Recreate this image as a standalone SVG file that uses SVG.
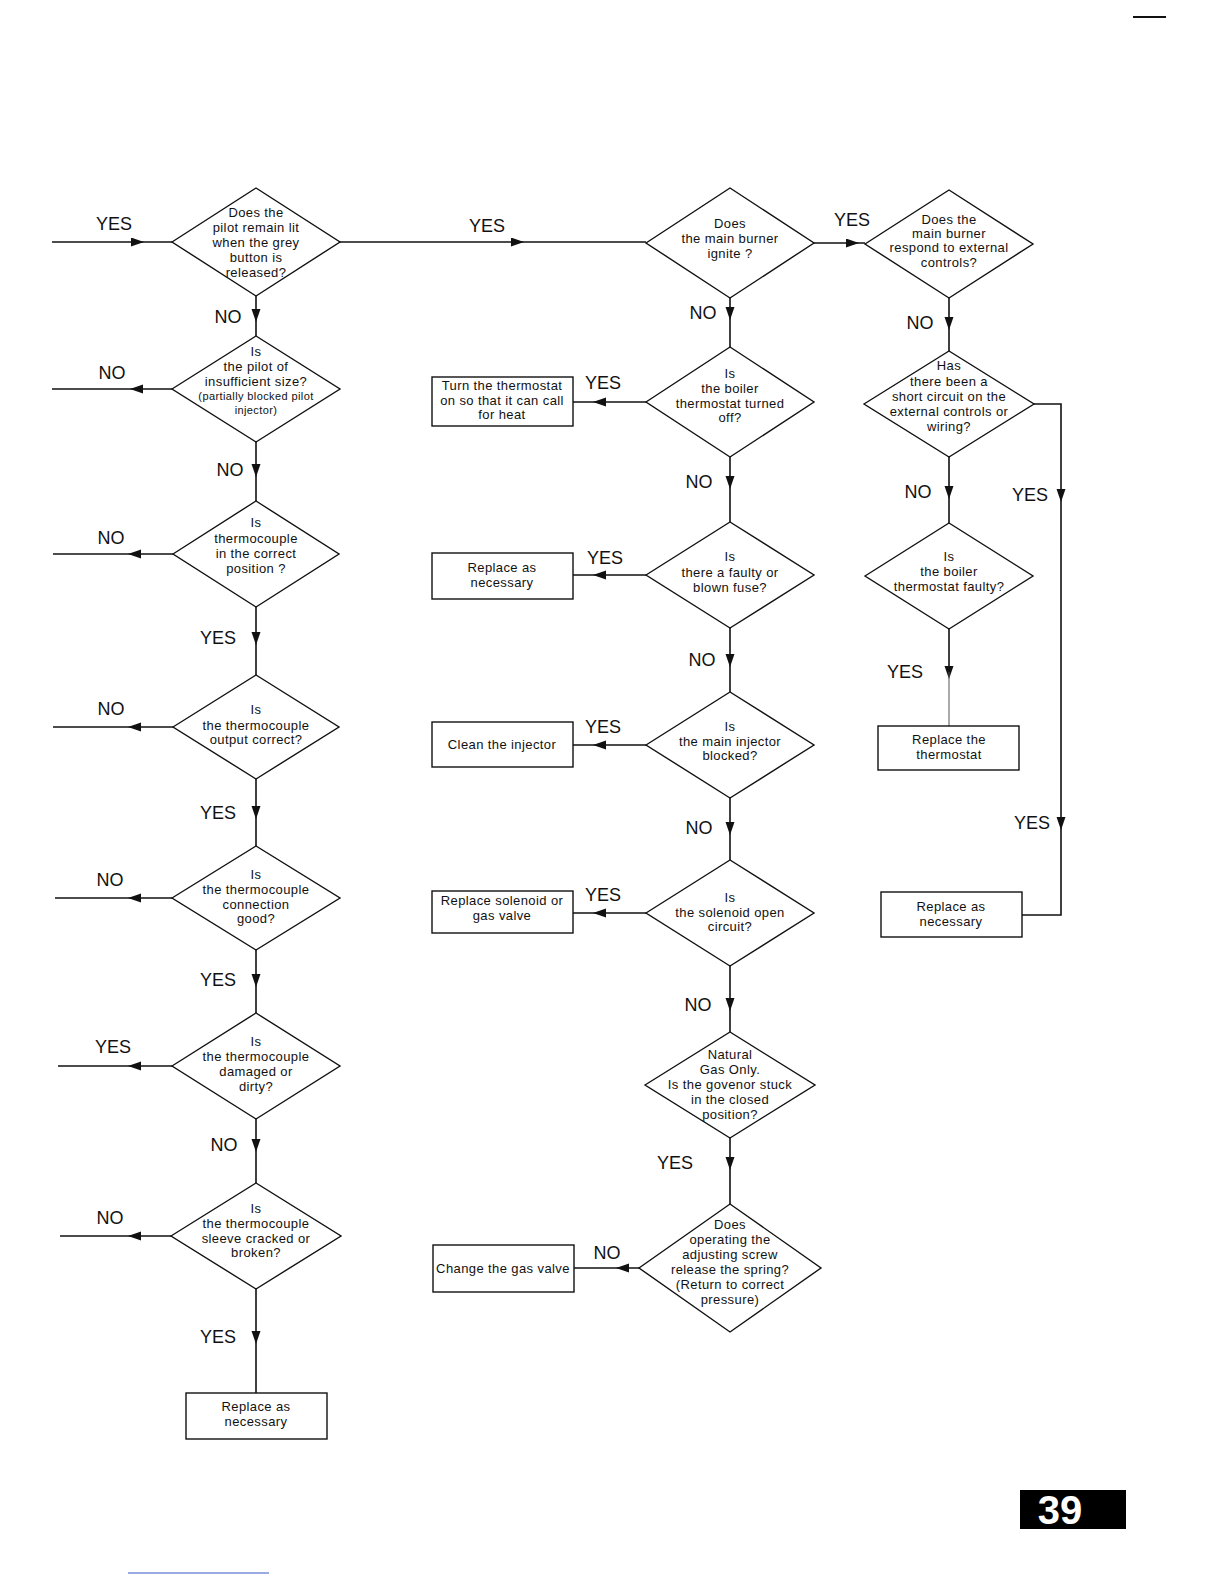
<svg xmlns="http://www.w3.org/2000/svg" width="1224" height="1584" viewBox="0 0 1224 1584">
<style>
.d{fill:#fff;stroke:#111;stroke-width:1.4}
.b{fill:#fff;stroke:#111;stroke-width:1.4}
.t{font-family:"Liberation Sans",Arial,sans-serif;font-size:13px;letter-spacing:0.4px;fill:#111;text-anchor:middle}
.s{font-size:11px}
.l{font-family:"Liberation Sans",Arial,sans-serif;font-size:18px;fill:#111;text-anchor:middle}
.c{fill:none;stroke:#111;stroke-width:1.6}
.m{marker-mid:url(#ah)}
.e{marker-end:url(#ah)}
</style>
<defs>
<marker id="ah" markerUnits="userSpaceOnUse" markerWidth="14" markerHeight="10" refX="6" refY="4.5" orient="auto">
<path d="M0,0 L13,4.5 L0,9 z" fill="#111"/>
</marker>
</defs>
<rect width="1224" height="1584" fill="#fff"/>

<g id="connectors">
<path class="c m" d="M52,242 L137,242 L172,242"/>
<path class="c m" d="M340,242 L517,242 L646,242"/>
<path class="c m" d="M814,243 L852,243 L865,243"/>
<path class="c m" d="M256,296 L256,315 L256,336"/>
<path class="c m" d="M172,389 L137,389 L52,389"/>
<path class="c m" d="M256,442 L256,470 L256,501"/>
<path class="c m" d="M173,554 L135,554 L53,554"/>
<path class="c m" d="M256,607 L256,638 L256,675"/>
<path class="c m" d="M173,727 L135,727 L53,727"/>
<path class="c m" d="M256,779 L256,812 L256,846"/>
<path class="c m" d="M172,898 L135,898 L55,898"/>
<path class="c m" d="M256,950 L256,980 L256,1013"/>
<path class="c m" d="M172,1066 L135,1066 L58,1066"/>
<path class="c m" d="M256,1119 L256,1145 L256,1183"/>
<path class="c m" d="M171,1236 L135,1236 L60,1236"/>
<path class="c m" d="M256,1289 L256,1337 L256,1393"/>

<path class="c m" d="M730,298 L730,313 L730,347"/>
<path class="c m" d="M646,402 L600,402 L573,402"/>
<path class="c m" d="M730,457 L730,482 L730,522"/>
<path class="c m" d="M646,575 L600,575 L573,575"/>
<path class="c m" d="M730,628 L730,660 L730,692"/>
<path class="c m" d="M646,745 L600,745 L573,745"/>
<path class="c m" d="M730,798 L730,828 L730,860"/>
<path class="c m" d="M646,913 L600,913 L573,913"/>
<path class="c m" d="M730,966 L730,1004 L730,1032"/>
<path class="c m" d="M730,1138 L730,1163 L730,1204"/>
<path class="c m" d="M639,1268 L623,1268 L574,1268"/>

<path class="c m" d="M949,298 L949,323 L949,351"/>
<path class="c m" d="M949,457 L949,492 L949,523"/>
<path class="c e" d="M949,629 L949,672"/>
<path fill="none" stroke="#555" stroke-width="1" d="M949,672 L949,726"/>
<path class="c e" d="M1034,404 L1061,404 L1061,495"/>
<path class="c e" d="M1061,495 L1061,823"/>
<path class="c" d="M1061,823 L1061,915 L1022,915"/>
</g>

<g id="d1"><polygon class="d" points="172,242 256,188 340,242 256,296"/>
<text class="t" x="256" y="217">Does the</text><text class="t" x="256" y="232">pilot remain lit</text><text class="t" x="256" y="247">when the grey</text><text class="t" x="256" y="262">button is</text><text class="t" x="256" y="277">released?</text></g>
<g id="d2"><polygon class="d" points="172,389 256,336 340,389 256,442"/>
<text class="t" x="256" y="356">Is</text><text class="t" x="256" y="371">the pilot of</text><text class="t" x="256" y="386">insufficient size?</text><text class="t s" x="256" y="400">(partially blocked pilot</text><text class="t s" x="256" y="414">injector)</text></g>
<g id="d3"><polygon class="d" points="173,554 256,501 339,554 256,607"/>
<text class="t" x="256" y="527">Is</text><text class="t" x="256" y="543">thermocouple</text><text class="t" x="256" y="558">in the correct</text><text class="t" x="256" y="573">position ?</text></g>
<g id="d4"><polygon class="d" points="173,727 256,675 339,727 256,779"/>
<text class="t" x="256" y="714">Is</text><text class="t" x="256" y="730">the thermocouple</text><text class="t" x="256" y="744">output correct?</text></g>
<g id="d5"><polygon class="d" points="172,898 256,846 340,898 256,950"/>
<text class="t" x="256" y="879">Is</text><text class="t" x="256" y="894">the thermocouple</text><text class="t" x="256" y="909">connection</text><text class="t" x="256" y="923">good?</text></g>
<g id="d6"><polygon class="d" points="172,1066 256,1013 340,1066 256,1119"/>
<text class="t" x="256" y="1046">Is</text><text class="t" x="256" y="1061">the thermocouple</text><text class="t" x="256" y="1076">damaged or</text><text class="t" x="256" y="1091">dirty?</text></g>
<g id="d7"><polygon class="d" points="171,1236 256,1183 341,1236 256,1289"/>
<text class="t" x="256" y="1213">Is</text><text class="t" x="256" y="1228">the thermocouple</text><text class="t" x="256" y="1243">sleeve cracked or</text><text class="t" x="256" y="1257">broken?</text></g>
<g id="b1"><rect class="b" x="186" y="1393" width="141" height="46"/>
<text class="t" x="256" y="1411">Replace as</text><text class="t" x="256" y="1426">necessary</text></g>

<g id="d8"><polygon class="d" points="646,243 730,188 814,243 730,298"/>
<text class="t" x="730" y="228">Does</text><text class="t" x="730" y="243">the main burner</text><text class="t" x="730" y="258">ignite ?</text></g>
<g id="d9"><polygon class="d" points="646,402 730,347 814,402 730,457"/>
<text class="t" x="730" y="378">Is</text><text class="t" x="730" y="393">the boiler</text><text class="t" x="730" y="408">thermostat turned</text><text class="t" x="730" y="422">off?</text></g>
<g id="b2"><rect class="b" x="432" y="377" width="141" height="49"/>
<text class="t" x="502" y="390">Turn the thermostat</text><text class="t" x="502" y="405">on so that it can call</text><text class="t" x="502" y="419">for heat</text></g>
<g id="d10"><polygon class="d" points="646,575 730,522 814,575 730,628"/>
<text class="t" x="730" y="561">Is</text><text class="t" x="730" y="577">there a faulty or</text><text class="t" x="730" y="592">blown fuse?</text></g>
<g id="b3"><rect class="b" x="432" y="553" width="141" height="46"/>
<text class="t" x="502" y="572">Replace as</text><text class="t" x="502" y="587">necessary</text></g>
<g id="d11"><polygon class="d" points="646,745 730,692 814,745 730,798"/>
<text class="t" x="730" y="731">Is</text><text class="t" x="730" y="746">the main injector</text><text class="t" x="730" y="760">blocked?</text></g>
<g id="b4"><rect class="b" x="432" y="722" width="141" height="45"/>
<text class="t" x="502" y="749">Clean the injector</text></g>
<g id="d12"><polygon class="d" points="646,913 730,860 814,913 730,966"/>
<text class="t" x="730" y="902">Is</text><text class="t" x="730" y="917">the solenoid open</text><text class="t" x="730" y="931">circuit?</text></g>
<g id="b5"><rect class="b" x="432" y="891" width="141" height="42"/>
<text class="t" x="502" y="905">Replace solenoid or</text><text class="t" x="502" y="920">gas valve</text></g>
<g id="d13"><polygon class="d" points="645,1085 730,1032 815,1085 730,1138"/>
<text class="t" x="730" y="1059">Natural</text><text class="t" x="730" y="1074">Gas Only.</text><text class="t" x="730" y="1089">Is the govenor stuck</text><text class="t" x="730" y="1104">in the closed</text><text class="t" x="730" y="1119">position?</text></g>
<g id="d14"><polygon class="d" points="639,1268 730,1204 821,1268 730,1332"/>
<text class="t" x="730" y="1229">Does</text><text class="t" x="730" y="1244">operating the</text><text class="t" x="730" y="1259">adjusting screw</text><text class="t" x="730" y="1274">release the spring?</text><text class="t" x="730" y="1289">(Return to correct</text><text class="t" x="730" y="1304">pressure)</text></g>
<g id="b6"><rect class="b" x="433" y="1245" width="141" height="47"/>
<text class="t" x="503" y="1273">Change the gas valve</text></g>

<g id="d15"><polygon class="d" points="865,244 949,190 1033,244 949,298"/>
<text class="t" x="949" y="224">Does the</text><text class="t" x="949" y="238">main burner</text><text class="t" x="949" y="252">respond to external</text><text class="t" x="949" y="267">controls?</text></g>
<g id="d16"><polygon class="d" points="864,404 949,351 1034,404 949,457"/>
<text class="t" x="949" y="370">Has</text><text class="t" x="949" y="386">there been a</text><text class="t" x="949" y="401">short circuit on the</text><text class="t" x="949" y="416">external controls or</text><text class="t" x="949" y="431">wiring?</text></g>
<g id="d17"><polygon class="d" points="865,576 949,523 1033,576 949,629"/>
<text class="t" x="949" y="561">Is</text><text class="t" x="949" y="576">the boiler</text><text class="t" x="949" y="591">thermostat faulty?</text></g>
<g id="b7"><rect class="b" x="878" y="726" width="141" height="44"/>
<text class="t" x="949" y="744">Replace the</text><text class="t" x="949" y="759">thermostat</text></g>
<g id="b8"><rect class="b" x="881" y="892" width="141" height="45"/>
<text class="t" x="951" y="911">Replace as</text><text class="t" x="951" y="926">necessary</text></g>

<g id="labels">
<text class="l" x="114" y="230">YES</text>
<text class="l" x="487" y="232">YES</text>
<text class="l" x="852" y="226">YES</text>
<text class="l" x="228" y="323">NO</text>
<text class="l" x="112" y="379">NO</text>
<text class="l" x="230" y="476">NO</text>
<text class="l" x="111" y="544">NO</text>
<text class="l" x="218" y="644">YES</text>
<text class="l" x="111" y="715">NO</text>
<text class="l" x="218" y="819">YES</text>
<text class="l" x="110" y="886">NO</text>
<text class="l" x="218" y="986">YES</text>
<text class="l" x="113" y="1053">YES</text>
<text class="l" x="224" y="1151">NO</text>
<text class="l" x="110" y="1224">NO</text>
<text class="l" x="218" y="1343">YES</text>
<text class="l" x="703" y="319">NO</text>
<text class="l" x="603" y="389">YES</text>
<text class="l" x="699" y="488">NO</text>
<text class="l" x="605" y="564">YES</text>
<text class="l" x="702" y="666">NO</text>
<text class="l" x="603" y="733">YES</text>
<text class="l" x="699" y="834">NO</text>
<text class="l" x="603" y="901">YES</text>
<text class="l" x="698" y="1011">NO</text>
<text class="l" x="675" y="1169">YES</text>
<text class="l" x="607" y="1259">NO</text>
<text class="l" x="920" y="329">NO</text>
<text class="l" x="918" y="498">NO</text>
<text class="l" x="1030" y="501">YES</text>
<text class="l" x="905" y="678">YES</text>
<text class="l" x="1032" y="829">YES</text>
</g>

<line x1="1133" y1="17" x2="1166" y2="17" stroke="#111" stroke-width="2"/>
<line x1="128" y1="1573" x2="269" y2="1573" stroke="#3a56c8" stroke-width="1"/>
<g id="page-number">
<rect x="1020" y="1490" width="106" height="39" fill="#000"/>
<text x="1060" y="1524" font-family="'Liberation Sans',Arial,sans-serif" font-size="40" font-weight="bold" fill="#fff" text-anchor="middle">39</text>
</g>
</svg>
